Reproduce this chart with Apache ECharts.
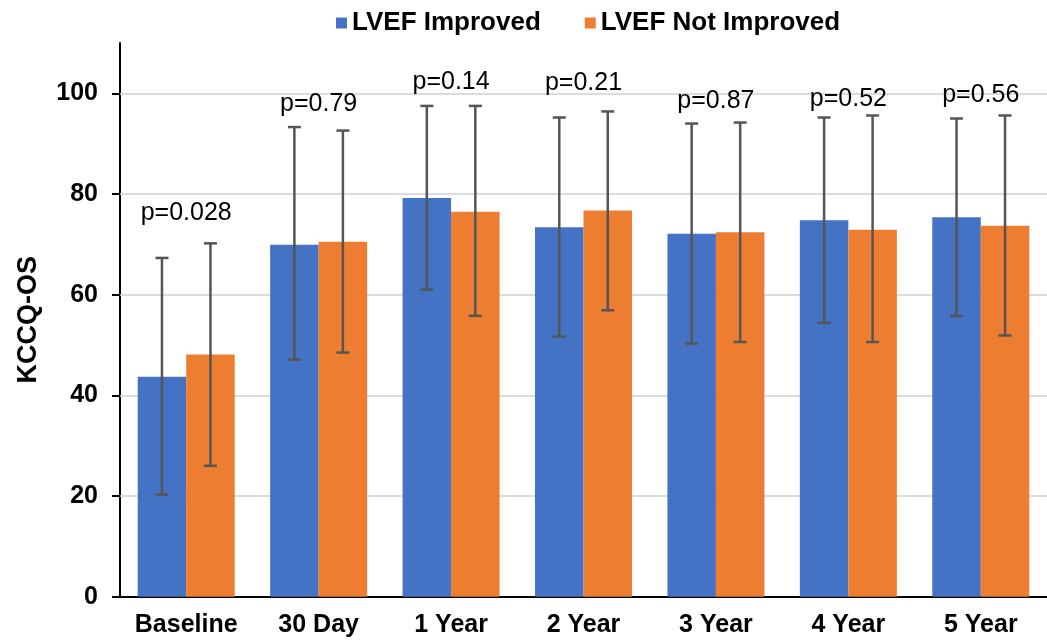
<!DOCTYPE html>
<html><head><meta charset="utf-8">
<script src="https://cdn.jsdelivr.net/npm/echarts@6/dist/echarts.min.js"></script>
<style>html,body{margin:0;padding:0;background:#fff}#c{width:1047px;height:644px}</style>
</head><body><div id="c"></div>
<script>
const categories = ['Baseline', '30 Day', '1 Year', '2 Year', '3 Year', '4 Year', '5 Year'];
const improvedMean = [43.7, 69.9, 79.2, 73.4, 72.1, 74.8, 75.4];
const improvedLow = [20.3, 47.1, 61.0, 51.7, 50.3, 54.4, 55.8];
const improvedHigh = [67.3, 93.3, 97.5, 95.2, 94.0, 95.2, 95.0];
const notImprovedMean = [48.1, 70.5, 76.5, 76.7, 72.4, 72.9, 73.7];
const notImprovedLow = [26.0, 48.5, 55.8, 56.9, 50.6, 50.6, 51.9];
const notImprovedHigh = [70.2, 92.6, 97.5, 96.4, 94.2, 95.6, 95.6];
const pValues = ['p=0.028', 'p=0.79', 'p=0.14', 'p=0.21', 'p=0.87', 'p=0.52', 'p=0.56'];
const pLabelY = [76.3, 97.9, 102.2, 102.0, 98.5, 98.9, 99.7];
const yTicks = [0, 20, 40, 60, 80, 100];

const BAR_W = 48.5;
const FONT = "'Liberation Sans', Arial, sans-serif";

function errorSeries(low, high, offset) {
  return {
    type: 'custom',
    silent: true,
    z: 10,
    encode: { x: 0, y: [1, 2] },
    data: categories.map((c, i) => [i, low[i], high[i]]),
    renderItem(params, api) {
      const x = api.value(0);
      const lo = api.coord([x, api.value(1)]);
      const hi = api.coord([x, api.value(2)]);
      const cx = lo[0] + offset;
      const hw = 6.5;
      const st = { stroke: '#555555', lineWidth: 2.5 };
      return {
        type: 'group',
        children: [
          { type: 'line', shape: { x1: cx, y1: hi[1], x2: cx, y2: lo[1] }, style: st },
          { type: 'line', shape: { x1: cx - hw, y1: hi[1], x2: cx + hw, y2: hi[1] }, style: st },
          { type: 'line', shape: { x1: cx - hw, y1: lo[1], x2: cx + hw, y2: lo[1] }, style: st }
        ]
      };
    }
  };
}

const chart = echarts.init(document.getElementById('c'));
chart.setOption({
  animation: false,
  legend: {
    left: 331, top: 5,
    icon: 'rect', itemWidth: 11, itemHeight: 11, itemGap: 44,
    data: ['LVEF Improved', 'LVEF Not Improved'],
    textStyle: { fontFamily: FONT, fontWeight: 'bold', fontSize: 26, color: '#000' }
  },
  grid: { left: 120, right: -14, top: 43, bottom: 47.3 },
  xAxis: {
    type: 'category',
    data: categories,
    axisLine: { lineStyle: { color: '#000', width: 2 } },
    axisTick: { alignWithLabel: true, length: 6, lineStyle: { color: '#000', width: 2 } },
    axisLabel: { interval: 0, fontFamily: FONT, fontWeight: 'bold', fontSize: 25, color: '#000', margin: 16 }
  },
  yAxis: {
    type: 'value', min: 0, max: 110, interval: 20,
    name: 'KCCQ-OS', nameLocation: 'middle', nameGap: 78,
    nameTextStyle: { fontFamily: FONT, fontWeight: 'bold', fontSize: 27, color: '#000' },
    axisLine: { show: true, lineStyle: { color: '#000', width: 2 } },
    axisTick: { show: true, length: 8, customValues: yTicks, lineStyle: { color: '#000', width: 2 } },
    axisLabel: { customValues: yTicks, fontFamily: FONT, fontWeight: 'bold', fontSize: 25, color: '#000', margin: 22 },
    splitLine: { show: false }
  },
  series: [
    {
      name: 'LVEF Improved', type: 'bar', data: improvedMean, barWidth: BAR_W, barGap: '0%',
      itemStyle: { color: '#4472C4' },
      markLine: {
        silent: true, symbol: 'none', label: { show: false }, z: 1,
        lineStyle: { color: '#d0d0d0', type: 'solid', width: 1.5 },
        data: yTicks.filter(v => v > 0).map(v => ({ yAxis: v }))
      }
    },
    {
      name: 'LVEF Not Improved', type: 'bar', data: notImprovedMean, barWidth: BAR_W, barGap: '0%',
      itemStyle: { color: '#ED7D31' }
    },
    errorSeries(improvedLow, improvedHigh, -BAR_W / 2),
    errorSeries(notImprovedLow, notImprovedHigh, BAR_W / 2),
    {
      type: 'scatter', silent: true, symbolSize: 0, z: 12,
      itemStyle: { opacity: 1 },
      data: categories.map((c, i) => [i, pLabelY[i]]),
      label: {
        show: true, position: 'inside',
        formatter: p => pValues[p.dataIndex],
        fontFamily: FONT, fontSize: 25, color: '#000'
      }
    }
  ]
});
</script>
</body></html>
